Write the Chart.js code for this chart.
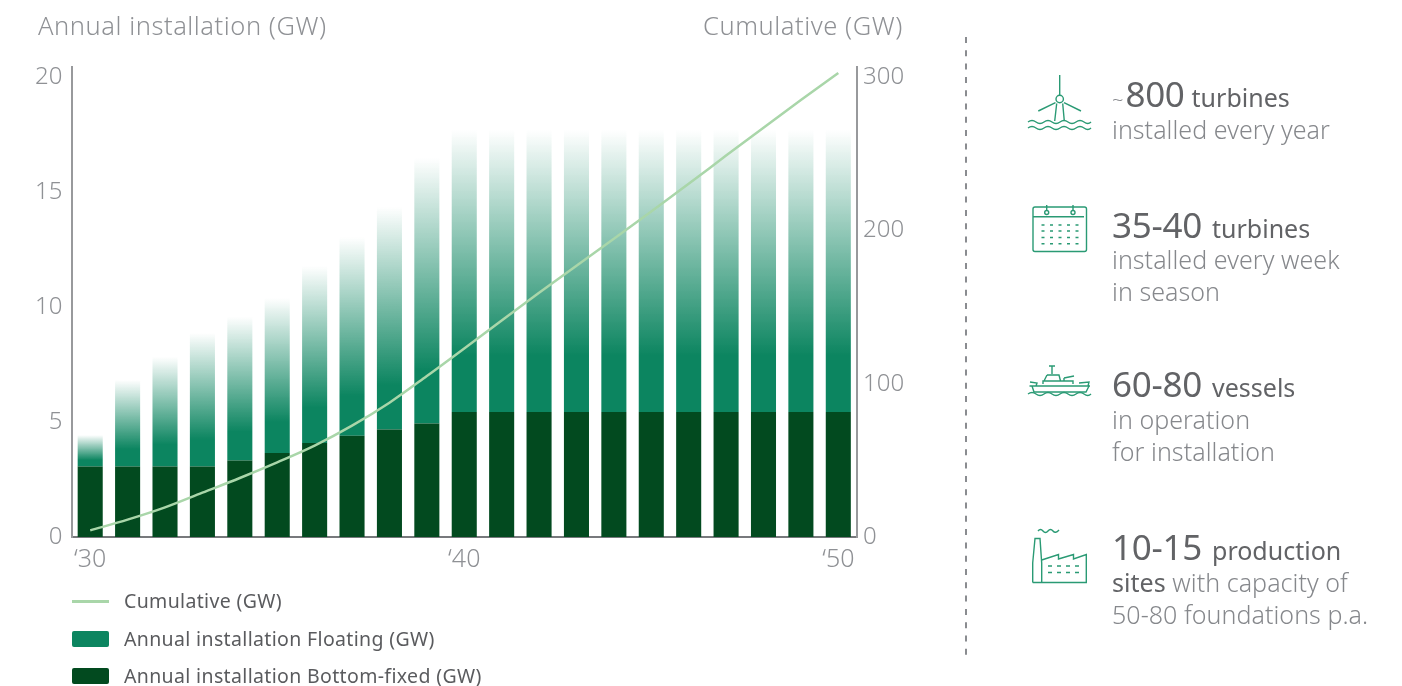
<!DOCTYPE html>
<html>
<head>
<meta charset="utf-8">
<title>Offshore wind build-out</title>
<script src="https://cdn.jsdelivr.net/npm/chart.js@4"></script>
<style>
  html, body { margin: 0; padding: 0; background: #fff; }
  body { width: 1402px; height: 686px; position: relative; overflow: hidden; font-family: "Noto Sans", sans-serif; font-weight: 350; color: #86888c; }
  #chartBox { position: absolute; left: 0; top: 0; width: 930px; height: 600px; }
  .t { position: absolute; white-space: nowrap; line-height: 1; }
  .head { font-size: 25.5px; letter-spacing: 0.55px; color: #8f9195; }
  .big { font-size: 35px; letter-spacing: -0.3px; color: #626366; font-weight: 400; }
  .mid { font-size: 25px; color: #626366; font-weight: 400; }
  .big + .mid { margin-left: 6px; }
  .sub { font-size: 25px; letter-spacing: 0.05px; color: #86888c; }
  .tilde { font-size: 20px; letter-spacing: 2px; color: #86888c; }
  #legend .t { font-size: 19.5px; letter-spacing: 0.35px; color: #5a5b5e; font-weight: 400; }
  .key { position: absolute; left: 72px; width: 37px; }
  svg { position: absolute; left: 0; top: 0; }
</style>
</head>
<body>
<div id="chartBox"><canvas id="installChart"></canvas></div>

<div class="t head" style="left:38px;top:13px">Annual installation (GW)</div>
<div class="t head" style="left:703px;top:13px">Cumulative (GW)</div>
<div id="legend"></div>

<svg width="1402" height="686" fill="none" stroke="#2a9a74" stroke-width="1.4">
  <line x1="966" y1="37" x2="966" y2="660" stroke="#8a8c90" stroke-width="2" stroke-dasharray="6 7.3"/>
  <!-- turbine -->
  <path d="M1059.7 75V95M1055.5 102.7L1038.3 111M1064 102.7L1081 111M1056.7 103.5L1054.7 121M1062.7 103.5L1064.3 121"/>
  <circle cx="1059.7" cy="99" r="3.7"/>
  <path d="M1028 122q4-3 8 0t8 0t8 0t8 0t8 0t8 0t8 0t7 0M1028 128q4-3 8 0t8 0t8 0t8 0t8 0t8 0t8 0t7 0"/>
  <!-- calendar -->
  <rect x="1033" y="207" width="53.5" height="44.5" rx="2"/>
  <path d="M1033 216.7H1084"/>
  <circle cx="1046.7" cy="212.5" r="2"/><circle cx="1073" cy="212.5" r="2"/>
  <path d="M1046.7 205V210M1073 205V210"/>
  <path d="M1041.5 225H1079M1041.5 231H1079M1041.5 237.5H1079M1041.5 243.7H1079" stroke-dasharray="3 5.5"/>
  <!-- vessel -->
  <path d="M1029.5 386H1090M1032 386L1034 392H1086L1089 386M1049 366H1055M1052 366V374M1047 375H1059L1060.5 381M1047 375L1044 381M1043 384V381H1073V384M1030 382L1037 383L1036 386M1079 383L1089 382L1088 386M1064 378L1074 376M1064 378V381"/>
  <path d="M1028 394q4-3 8 0t8 0t8 0t8 0t8 0t8 0t8 0t7 0"/>
  <!-- factory -->
  <path d="M1032.7 582.5V563L1035 538.5H1040L1041.7 563V582.5M1032.7 582.5H1086.3V554.5L1073.5 559V554.5L1058.5 559V554.5L1041.7 560"/>
  <path d="M1038 531q2.5-3 5 0t5 0t5 0t6 -1"/>
  <path d="M1048 566H1082M1048 572.5H1082" stroke-dasharray="4 5"/>
</svg>

<div class="t" style="left:1112px;top:76px"><span class="tilde">~</span><span class="big">800</span><span class="mid" style="margin-left:7px">turbines</span></div>
<div class="t sub" style="left:1112px;top:117px">installed every year</div>

<div class="t" style="left:1112px;top:207px"><span class="big">35-40</span> <span class="mid">turbines</span></div>
<div class="t sub" style="left:1112px;top:247px">installed every week</div>
<div class="t sub" style="left:1112px;top:279px">in season</div>

<div class="t" style="left:1112px;top:366px"><span class="big">60-80</span> <span class="mid">vessels</span></div>
<div class="t sub" style="left:1112px;top:407px">in operation</div>
<div class="t sub" style="left:1112px;top:439px">for installation</div>

<div class="t" style="left:1112px;top:529px"><span class="big">10-15</span> <span class="mid">production</span></div>
<div class="t sub" style="left:1112px;top:570px"><span class="mid">sites</span> with capacity of</div>
<div class="t sub" style="left:1112px;top:602px">50-80 foundations p.a.</div>

<script>
const years = ['‘30', '', '', '', '', '', '', '', '', '', '‘40', '', '', '', '', '', '', '', '', '', '‘50'];
const bottomFixed = [3.07, 3.07, 3.07, 3.07, 3.33, 3.65, 4.09, 4.4, 4.67, 4.93, 5.43, 5.43, 5.43, 5.43, 5.43, 5.43, 5.43, 5.43, 5.43, 5.43, 5.43];
const floating = [1.36, 3.76, 4.76, 5.8, 6.25, 6.74, 7.69, 8.64, 9.68, 11.55, 12.27, 12.27, 12.27, 12.27, 12.27, 12.27, 12.27, 12.27, 12.27, 12.27, 12.27];
const cumulative = [4.3, 11.3, 19.3, 28.9, 38.5, 48.7, 59.6, 72.6, 87.6, 105, 123, 141.3, 159.3, 177, 194.6, 212.4, 230.4, 248.8, 267, 285, 302.7];
const annualTicks = [0, 5, 10, 15, 20];
const cumulativeTicks = [0, 100, 200, 300];

const tickGrey = '#8f9195';
const floatGreen = '#0c8560';
const darkGreen = '#024a1f';
const lineGreen = '#a9d6a9';
const tickFont = { family: '"Noto Sans"', size: 24, weight: 350 };

// floating segment fades out towards its top, each bar gets its own gradient
function floatGradient(c) {
  const chart = c.chart;
  if (c.type !== 'data' || !chart.chartArea) return floatGreen;
  const y = chart.scales.y;
  const i = c.dataIndex;
  const top = y.getPixelForValue(bottomFixed[i] + floating[i]);
  const bottom = y.getPixelForValue(bottomFixed[i]);
  const g = chart.ctx.createLinearGradient(0, top, 0, bottom);
  g.addColorStop(0, 'rgba(12,133,96,0)');
  g.addColorStop(0.8, 'rgba(12,133,96,1)');
  g.addColorStop(1, 'rgba(12,133,96,1)');
  return g;
}

const chart = new Chart(document.getElementById('installChart'), {
  data: {
    labels: years,
    datasets: [
      { type: 'line', label: 'Cumulative (GW)', data: cumulative, yAxisID: 'y1', borderColor: lineGreen, backgroundColor: lineGreen, borderWidth: 2.5, pointRadius: 0, cubicInterpolationMode: 'monotone', order: 0 },
      { type: 'bar', label: 'Annual installation Bottom-fixed (GW)', data: bottomFixed, yAxisID: 'y', backgroundColor: darkGreen, stack: 'a', barPercentage: 0.67, categoryPercentage: 1, order: 1 },
      { type: 'bar', label: 'Annual installation Floating (GW)', data: floating, yAxisID: 'y', backgroundColor: floatGradient, stack: 'a', barPercentage: 0.67, categoryPercentage: 1, order: 2 }
    ]
  },
  options: {
    responsive: true,
    maintainAspectRatio: false,
    animation: false,
    layout: { padding: { top: 67, left: 0, right: 0, bottom: 0 } },
    plugins: { legend: { display: false }, tooltip: { enabled: false } },
    scales: {
      x: {
        stacked: true,
        grid: { display: false, drawTicks: false },
        border: { color: '#77797c', width: 2 },
        ticks: { color: tickGrey, font: { ...tickFont, size: 25 }, autoSkip: false, maxRotation: 0, padding: 8 },
        afterFit(s) { s.height = 63; }
      },
      y: {
        stacked: true,
        position: 'left',
        min: 0,
        max: 470 / 23,
        afterBuildTicks(s) { s.ticks = annualTicks.map(v => ({ value: v })); },
        grid: { display: false, drawTicks: false },
        border: { color: '#98999c', width: 2 },
        ticks: { color: tickGrey, font: tickFont, padding: 9 },
        afterFit(s) { s.width = 71.5; }
      },
      y1: {
        position: 'right',
        min: 0,
        max: 470 / 1.533,
        afterBuildTicks(s) { s.ticks = cumulativeTicks.map(v => ({ value: v })); },
        grid: { display: false, drawTicks: false },
        border: { color: '#98999c', width: 2 },
        ticks: { color: tickGrey, font: tickFont, padding: 6 },
        afterFit(s) { s.width = 73; }
      }
    }
  }
});

// legend rows are built from the chart's datasets, floating listed above bottom-fixed
const legendBox = document.getElementById('legend');
const legendRows = [0, 2, 1];
const legendTops = [591, 629, 666];
legendRows.forEach((dsIndex, row) => {
  const ds = chart.data.datasets[dsIndex];
  const isLine = ds.type === 'line';
  const key = document.createElement('div');
  key.className = 'key';
  const colour = isLine ? lineGreen : (dsIndex === 2 ? floatGreen : darkGreen);
  key.style.cssText = isLine
    ? `top:${legendTops[row] + 9}px;height:2.5px;background:${colour}`
    : `top:${legendTops[row] + 2}px;height:16px;border-radius:2px;background:${colour}`;
  legendBox.appendChild(key);
  const text = document.createElement('div');
  text.className = 't';
  text.style.cssText = `left:124px;top:${legendTops[row]}px`;
  text.textContent = ds.label;
  legendBox.appendChild(text);
});
</script>
</body>
</html>
